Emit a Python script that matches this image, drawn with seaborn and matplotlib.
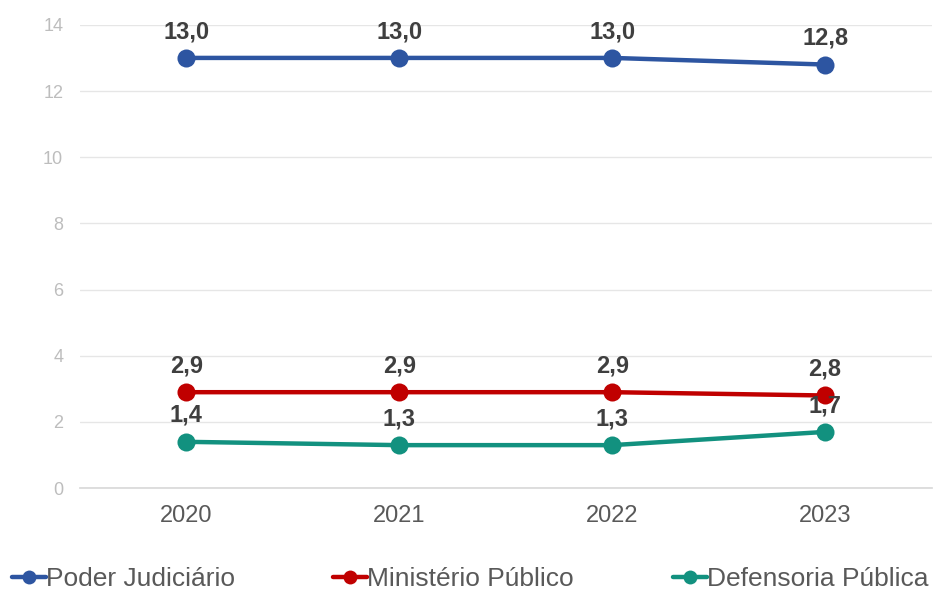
import matplotlib
matplotlib.use("Agg")
import matplotlib.pyplot as plt
import seaborn as sns
import pandas as pd
from matplotlib.lines import Line2D

years = ["2020", "2021", "2022", "2023"]
poder_judiciario = [13.0, 13.0, 13.0, 12.8]
ministerio_publico = [2.9, 2.9, 2.9, 2.8]
defensoria_publica = [1.4, 1.3, 1.3, 1.7]
series_names = ["Poder Judiciário", "Ministério Público", "Defensoria Pública"]
colors = ["#2D55A1", "#C00000", "#12917F"]
yticks = [0, 2, 4, 6, 8, 10, 12, 14]

sns.set_theme(style="white")
plt.rcParams["font.family"] = ["Liberation Sans", "DejaVu Sans"]

rows = []
for name, vals in zip(series_names, [poder_judiciario, ministerio_publico, defensoria_publica]):
    for y, v in zip(years, vals):
        rows.append({"Ano": y, "Valor": v, "Série": name})
df = pd.DataFrame(rows)

fig = plt.figure(figsize=(9.4, 5.91), dpi=100)
ax = fig.add_axes([0.085, 0.174, 0.906, 0.784])

sns.lineplot(data=df, x="Ano", y="Valor", hue="Série", palette=colors,
             marker="o", markersize=13, linewidth=3.2, markeredgewidth=0,
             legend=False, ax=ax)

for name, vals in zip(series_names, [poder_judiciario, ministerio_publico, defensoria_publica]):
    for i, v in enumerate(vals):
        ax.annotate(f"{v:.1f}".replace(".", ","), (i, v), xytext=(0, 19),
                    textcoords="offset points", ha="center", va="center",
                    fontsize=17, fontweight="bold", color="#3F3F3F")

ax.set_ylim(0, 14)
ax.set_xlim(-0.5, 3.5)
ax.set_yticks(yticks)
ax.set_yticklabels([str(t) for t in yticks])
ax.grid(axis="y", color="#E6E6E6", linewidth=1)
ax.set_axisbelow(True)
for s in ["top", "right", "left"]:
    ax.spines[s].set_visible(False)
ax.spines["bottom"].set_color("#D9D9D9")
ax.tick_params(axis="y", labelsize=13, length=0, pad=12)
ax.tick_params(axis="x", labelsize=17, length=0, pad=12)
for lbl in ax.get_yticklabels():
    lbl.set_color("#BDBDBD")
for lbl in ax.get_xticklabels():
    lbl.set_color("#595959")
ax.set_xlabel("")
ax.set_ylabel("")

legend_x = [12 / 940, 333 / 940, 673 / 940]
for c, name, lx in zip(colors, series_names, legend_x):
    h = Line2D([0], [0], color=c, marker="o", markersize=10, linewidth=3.2,
               markeredgewidth=0)
    leg = fig.legend([h], [name], loc="center left", bbox_to_anchor=(lx, 12 / 591),
                     frameon=False, fontsize=19, handlelength=1.3, handletextpad=0.0,
                     labelcolor="#595959", borderpad=0, borderaxespad=0)

fig.savefig("out.png", dpi=100)
